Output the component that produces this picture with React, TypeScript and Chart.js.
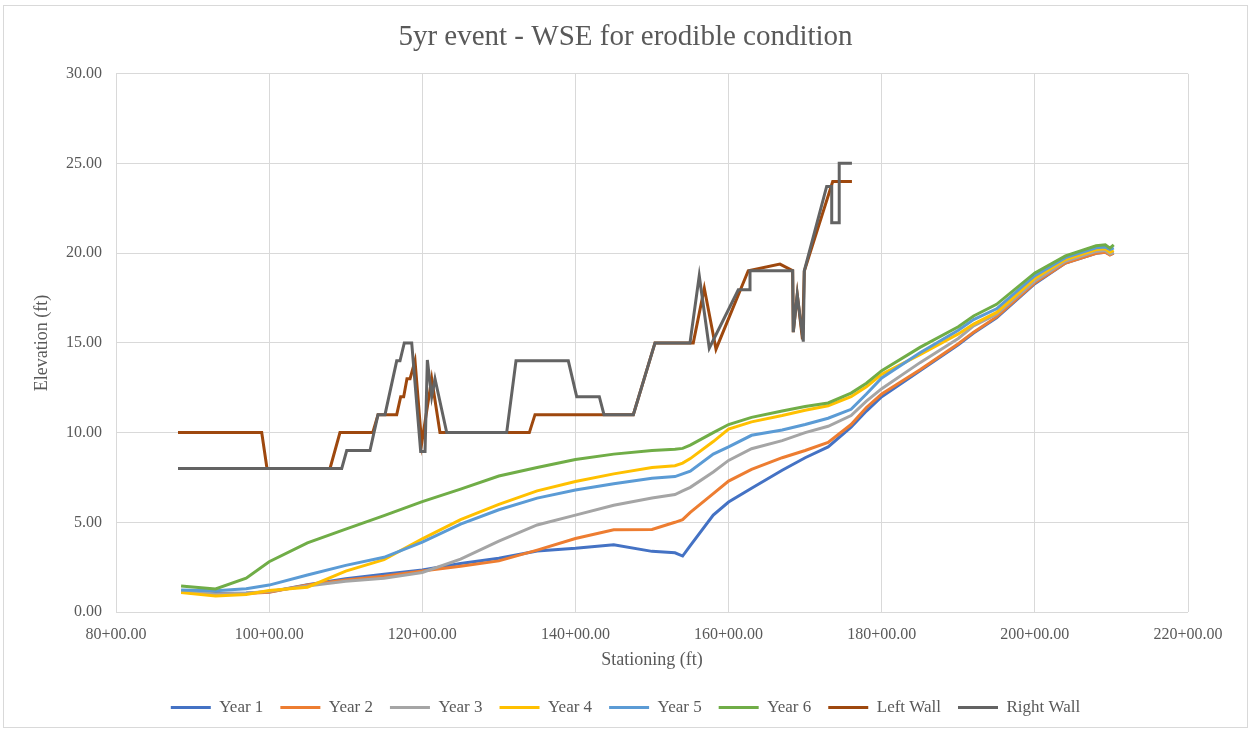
import React, { useEffect, useRef } from "react";
import { Chart, registerables } from "chart.js";

Chart.register(...registerables);

const stations = [8850, 9300, 9700, 10000, 10500, 11000, 11500, 12000, 12500, 13000, 13500, 14000, 14500, 15000, 15300, 15400, 15500, 15800, 16000, 16300, 16700, 17000, 17300, 17600, 17800, 18000, 18500, 19000, 19200, 19500, 20000, 20400, 20800, 20920, 20980, 21030];

const year1 = [1.15, 1.03, 1.06, 1.12, 1.52, 1.85, 2.1, 2.34, 2.7, 3.0, 3.4, 3.55, 3.75, 3.38, 3.3, 3.12, 3.7, 5.4, 6.13, 6.9, 7.9, 8.6, 9.2, 10.3, 11.2, 12.0, 13.45, 14.9, 15.55, 16.4, 18.3, 19.45, 20.0, 20.05, 19.95, 20.0];
const year2 = [1.12, 0.98, 1.03, 1.1, 1.5, 1.78, 2.0, 2.28, 2.55, 2.85, 3.45, 4.1, 4.58, 4.6, 5.0, 5.15, 5.55, 6.6, 7.3, 7.95, 8.6, 9.0, 9.45, 10.45, 11.4, 12.15, 13.5, 14.95, 15.6, 16.45, 18.35, 19.45, 20.0, 20.05, 19.9, 20.0];
const year3 = [1.15, 1.0, 1.05, 1.15, 1.45, 1.72, 1.88, 2.2, 2.95, 3.95, 4.85, 5.4, 5.95, 6.35, 6.55, 6.75, 6.95, 7.8, 8.45, 9.1, 9.55, 10.0, 10.35, 10.95, 11.75, 12.45, 13.9, 15.25, 15.95, 16.6, 18.45, 19.55, 20.1, 20.15, 19.95, 20.05];
const year4 = [1.08, 0.89, 0.98, 1.2, 1.38, 2.28, 2.92, 4.08, 5.15, 6.0, 6.75, 7.27, 7.7, 8.05, 8.15, 8.3, 8.55, 9.5, 10.2, 10.6, 10.95, 11.25, 11.5, 12.0, 12.55, 13.25, 14.35, 15.5, 16.05, 16.7, 18.6, 19.65, 20.2, 20.25, 20.05, 20.15];
const year5 = [1.23, 1.19, 1.3, 1.5, 2.06, 2.6, 3.05, 3.9, 4.9, 5.7, 6.35, 6.8, 7.15, 7.45, 7.55, 7.7, 7.85, 8.8, 9.2, 9.85, 10.15, 10.45, 10.8, 11.3, 12.15, 13.05, 14.45, 15.7, 16.3, 16.9, 18.75, 19.75, 20.3, 20.35, 20.2, 20.3];
const year6 = [1.45, 1.28, 1.88, 2.8, 3.85, 4.62, 5.37, 6.15, 6.85, 7.58, 8.05, 8.5, 8.8, 9.0, 9.07, 9.12, 9.3, 10.0, 10.45, 10.85, 11.2, 11.45, 11.65, 12.2, 12.75, 13.45, 14.75, 15.9, 16.5, 17.15, 18.9, 19.85, 20.41, 20.47, 20.28, 20.47];

const leftWallX = [8810, 9903, 9972, 10795, 10925, 11353, 11422, 11666, 11718, 11757, 11800, 11840, 11905, 11992, 12123, 12231, 13398, 13472, 14756, 15039, 15539, 15683, 15836, 16257, 16671, 16837, 16845, 16897, 16965, 16989, 17360, 17611];
const leftWallY = [10, 10, 8, 8, 10, 10, 11, 11, 12, 12, 13, 13, 14, 9.4, 13, 10, 10, 11, 11, 15, 15, 18.05, 14.65, 19.02, 19.39, 19.02, 15.6, 17.7, 15.2, 19.0, 24, 24];

const rightWallX = [8810, 10948, 11013, 11317, 11369, 11422, 11513, 11666, 11709, 11765, 11862, 11979, 12036, 12066, 12123, 12166, 12319, 13102, 13224, 13907, 14017, 14312, 14373, 14756, 15039, 15496, 15617, 15748, 16127, 16280, 16280, 16837, 16845, 16897, 16976, 16989, 17281, 17347, 17347, 17445, 17445, 17611];
const rightWallY = [8, 8, 9, 9, 10, 11, 11, 14, 14, 15, 15, 8.94, 8.94, 14.05, 12, 13, 10, 10, 14, 14, 12, 12, 11, 11, 15, 15, 18.74, 14.7, 17.96, 17.96, 19.02, 19.02, 15.6, 17.68, 15.07, 19.02, 23.72, 23.72, 21.7, 21.7, 25.02, 25.02];

const seriesNames = ["Year 1", "Year 2", "Year 3", "Year 4", "Year 5", "Year 6", "Left Wall", "Right Wall"];
const seriesColors = ["#4472C4", "#ED7D31", "#A5A5A5", "#FFC000", "#5B9BD5", "#70AD47", "#9E480E", "#636363"];

const chartTitle = "5yr event - WSE for erodible condition";
const xTitle = "Stationing (ft)";
const yTitle = "Elevation (ft)";

const FONT = "'Liberation Serif', 'DejaVu Serif', serif";
const TEXT = "#595959";
const GRID = "#D9D9D9";

function pts(xs: number[], ys: number[]) {
  return xs.map((x, i) => ({ x, y: ys[i] }));
}

function fmtStation(v: number) {
  const major = Math.floor(v / 100);
  const minor = (v - major * 100).toFixed(2).padStart(5, "0");
  return `${major}+${minor}`;
}

export default function App() {
  const ref = useRef<HTMLCanvasElement | null>(null);

  useEffect(() => {
    if (!ref.current) return;
    const years = [year1, year2, year3, year4, year5, year6];
    const datasets: any[] = years.map((ys, i) => ({
      label: seriesNames[i],
      data: pts(stations, ys),
      borderColor: seriesColors[i],
      backgroundColor: seriesColors[i],
      borderWidth: 3,
      pointRadius: 0,
      tension: 0,
      order: 7 - i,
    }));
    datasets.push({
      label: seriesNames[6],
      data: pts(leftWallX, leftWallY),
      borderColor: seriesColors[6],
      backgroundColor: seriesColors[6],
      borderWidth: 3,
      pointRadius: 0,
      tension: 0,
      order: 1,
    });
    datasets.push({
      label: seriesNames[7],
      data: pts(rightWallX, rightWallY),
      borderColor: seriesColors[7],
      backgroundColor: seriesColors[7],
      borderWidth: 3,
      pointRadius: 0,
      tension: 0,
      order: 0,
    });

    const chart = new Chart(ref.current, {
      type: "line",
      data: { datasets },
      options: {
        animation: false,
        responsive: false,
        maintainAspectRatio: false,
        parsing: false as any,
        layout: { padding: { left: 0, right: 0, top: 0, bottom: 6 } },
        plugins: {
          title: {
            display: true,
            text: chartTitle,
            color: TEXT,
            font: { family: FONT, size: 29, weight: "normal" },
            padding: { top: 20, bottom: 19 },
          },
          legend: {
            display: true,
            position: "bottom",
            labels: {
              usePointStyle: true,
              pointStyle: "line",
              pointStyleWidth: 40,
              color: TEXT,
              font: { family: FONT, size: 17 },
              padding: 17,
              sort: (a: any, b: any) => a.datasetIndex - b.datasetIndex,
            },
          },
          tooltip: { enabled: false },
        },
        scales: {
          x: {
            type: "linear",
            min: 8000,
            max: 22000,
            border: { display: false },
            grid: { color: GRID, drawTicks: false, lineWidth: 1 },
            ticks: {
              stepSize: 2000,
              padding: 13,
              color: TEXT,
              font: { family: FONT, size: 16 },
              maxRotation: 0,
              callback: (v: any) => fmtStation(Number(v)),
            },
            title: {
              display: true,
              text: xTitle,
              color: TEXT,
              font: { family: FONT, size: 18 },
              padding: { top: 0, bottom: 11 },
            },
            afterFit: (s: any) => {
              s.height = 70;
            },
          },
          y: {
            type: "linear",
            min: 0,
            max: 30,
            border: { display: false },
            grid: { color: GRID, drawTicks: false, lineWidth: 1 },
            ticks: {
              stepSize: 5,
              padding: 14,
              color: TEXT,
              font: { family: FONT, size: 16 },
              callback: (v: any) => Number(v).toFixed(2),
            },
            title: {
              display: true,
              text: yTitle,
              color: TEXT,
              font: { family: FONT, size: 18 },
              padding: { top: 31, bottom: 0 },
            },
            afterFit: (s: any) => {
              s.width = 116;
            },
          },
          yRight: {
            type: "linear",
            position: "right",
            display: true,
            min: 0,
            max: 30,
            border: { display: false },
            grid: { display: false, drawTicks: false },
            ticks: { display: false },
            afterFit: (s: any) => {
              s.width = 63;
            },
          },
        },
      },
    });
    return () => chart.destroy();
  }, []);

  return (
    <div style={{ position: "fixed", left: 0, top: 0, width: 1251, height: 732, background: "#fff" }}>
      <canvas ref={ref} width={1251} height={732} style={{ display: "block", width: 1251, height: 732 }} />
      <div
        style={{
          position: "absolute",
          left: 3,
          top: 5,
          width: 1243,
          height: 721,
          border: "1px solid #D9D9D9",
          pointerEvents: "none",
        }}
      />
    </div>
  );
}
